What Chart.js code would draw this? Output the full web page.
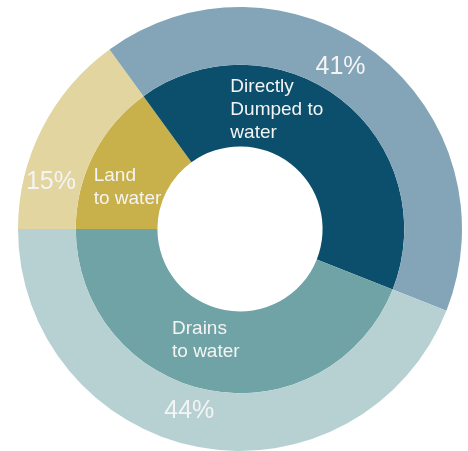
<!DOCTYPE html>
<html>
<head>
<meta charset="utf-8">
<script src="https://cdn.jsdelivr.net/npm/chart.js@4/dist/chart.umd.min.js"></script>
<style>
  html, body { margin: 0; padding: 0; background: #ffffff; }
  #wrap { width: 468px; height: 451px; }
</style>
</head>
<body>
<div id="wrap"><canvas id="chart" width="468" height="451"></canvas></div>
<script>
/* data */
var categories = ["Land\nto water", "Directly\nDumped to\nwater", "Drains\nto water"];
var shares = [15, 41, 44];
var shareLabels = ["15%", "41%", "44%"];

var outerColors = ["#E2D5A0", "#84A5B8", "#B7D1D3"];
var innerColors = ["#C8B04A", "#0B4F6C", "#6FA3A5"];

/* where the text sits inside each arc: t = along the arc, r = across the ring */
var pctPlace = [{ t: 0.26, r: 0.53 }, { t: 0.46, r: 0.45 }, { t: 0.53, r: 0.43 }];
var namePlace = [{ t: 0.38, r: 0.46 }, { t: 0.36, r: 0.52 }, { t: 0.54, r: 0.41 }];

function spot(arc, p) {
    var a = arc.startAngle + (arc.endAngle - arc.startAngle) * p.t;
    var rad = arc.innerRadius + (arc.outerRadius - arc.innerRadius) * p.r;
    return { x: arc.x + Math.cos(a) * rad, y: arc.y + Math.sin(a) * rad };
}

const ringText = {
    id: 'ringText',
    afterDatasetsDraw: function(chart) {
        var ctx = chart.ctx;
        ctx.save();
        ctx.fillStyle = "#F4F4F4";
        ctx.textBaseline = "middle";

        // percentages on the outer ring
        ctx.font = "25px 'Liberation Sans', Arial, sans-serif";
        ctx.textAlign = "center";
        chart.getDatasetMeta(0).data.forEach(function(arc, i) {
            var p = spot(arc, pctPlace[i]);
            ctx.fillText(shareLabels[i], p.x, p.y);
        });

        // names on the inner ring, left aligned block
        ctx.font = "19px 'Liberation Sans', Arial, sans-serif";
        ctx.textAlign = "left";
        var lh = 23;
        chart.getDatasetMeta(1).data.forEach(function(arc, i) {
            var p = spot(arc, namePlace[i]);
            var lines = categories[i].split("\n");
            var w = 0;
            lines.forEach(function(l) { w = Math.max(w, ctx.measureText(l).width); });
            var y0 = p.y - (lines.length - 1) * lh / 2;
            lines.forEach(function(l, k) {
                ctx.fillText(l, p.x - w / 2, y0 + k * lh);
            });
        });
        ctx.restore();
    }
};

window.onload = function() {
    var ctx = document.getElementById("chart").getContext("2d");
    window.theChart = new Chart(ctx, {
        type: 'doughnut',
        data: {
            labels: categories,
            datasets: [{
                data: shares,
                backgroundColor: outerColors,
                borderWidth: 0,
                weight: 58
            }, {
                data: shares,
                backgroundColor: innerColors,
                borderWidth: 0,
                weight: 82
            }]
        },
        options: {
            responsive: false,
            animation: false,
            rotation: -90,
            cutout: '37.2%',
            layout: { padding: { left: 17, right: 5, top: 7, bottom: -2 } },
            plugins: {
                legend: { display: false },
                tooltip: { enabled: false }
            }
        },
        plugins: [ringText]
    });
}
</script>
</body>
</html>
